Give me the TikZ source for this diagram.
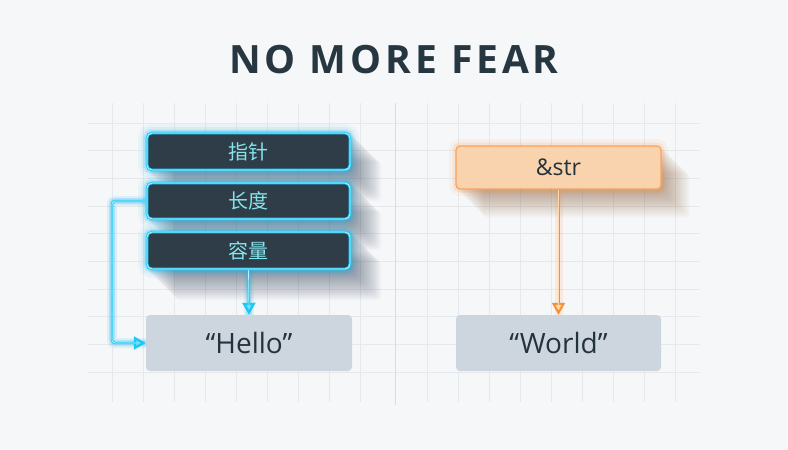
\documentclass[tikz,border=0pt]{standalone}
\usepackage{fontspec}
\setmainfont{Open Sans}
\newfontfamily\titlef[LetterSpace=10]{Open Sans}
\newfontfamily\cjkf{Noto Sans CJK SC}
\usetikzlibrary{arrows.meta}
\definecolor{bgc}{HTML}{F6F7F8}
\definecolor{gridc}{HTML}{E6E9EB}
\definecolor{divc}{HTML}{DADDE0}
\definecolor{darkfill}{HTML}{2E3D47}
\definecolor{cyanb}{HTML}{1EC8F5}
\definecolor{cyanglow}{HTML}{00B0F0}
\definecolor{cyancore}{HTML}{B8F4FF}
\definecolor{cyantext}{HTML}{86E4EC}
\definecolor{strfill}{HTML}{CDD5DE}
\definecolor{strtext}{HTML}{23333D}
\definecolor{orfill}{HTML}{F9D3AD}
\definecolor{orb}{HTML}{F6A35E}
\definecolor{orarrow}{HTML}{F78F35}
\definecolor{orglow}{HTML}{FF8A30}
\definecolor{orcore}{HTML}{FFD8B0}
\definecolor{titlec}{HTML}{263741}
\definecolor{shadc}{HTML}{2A3F55}
\definecolor{shado}{HTML}{8A5A30}
\pgfdeclarelayer{back}
\pgfdeclarelayer{shad}
\pgfsetlayers{back,shad,main}
\tikzset{
  cyanbox/.style={rectangle, rounded corners=5pt, minimum width=203pt, minimum height=37pt,
    fill=darkfill, draw=cyanb, line width=2.6pt, text=cyantext, font=\cjkf\fontsize{20pt}{20pt}\selectfont,
    preaction={draw=cyanglow, line width=18pt, opacity=0.05},
    preaction={draw=cyanglow, line width=12pt, opacity=0.08},
    preaction={draw=cyanglow, line width=7pt, opacity=0.18},
    postaction={draw=cyancore, line width=0.8pt}},
  strbox/.style={rectangle, rounded corners=4pt, minimum width=206pt, minimum height=56pt,
    fill=strfill, text=strtext, font=\fontsize{28pt}{28pt}\selectfont},
  orbox/.style={rectangle, rounded corners=4pt, minimum width=205pt, minimum height=43pt,
    fill=orfill, draw=orb, line width=1.2pt, text=strtext, font=\fontsize{23pt}{23pt}\selectfont,
    preaction={draw=orglow, line width=14pt, opacity=0.06},
    preaction={draw=orglow, line width=7pt, opacity=0.14}},
  cyanarrow/.style={draw=cyanb, line width=2.4pt, rounded corners=3pt,
    -{Triangle[width=13pt,length=12pt,fill=cyancore!60!cyanb]},
    preaction={draw=cyanglow, line width=10pt, opacity=0.10, -{}},
    preaction={draw=cyanglow, line width=6pt, opacity=0.20, -{}},
    postaction={draw=cyancore, line width=0.7pt, -{}, shorten >=10pt}},
  orarrow/.style={draw=orarrow, line width=2pt,
    -{Triangle[width=13pt,length=12pt,fill=orcore]},
    preaction={draw=orglow, line width=8pt, opacity=0.12, -{}},
    postaction={draw=orcore, line width=0.6pt, -{}, shorten >=10pt}},
  gridline/.style={draw=gridc, line width=0.6pt},
  titlestyle/.style={text=titlec, font=\titlef\bfseries\fontsize{39pt}{39pt}\selectfont}
}
\begin{document}
\begin{tikzpicture}[x=1pt,y=-1pt]
\useasboundingbox (0,0) rectangle (788,450);
\begin{pgfonlayer}{back}
\fill[bgc] (0,0) rectangle (788,450);
\foreach \x in {112,143,174,205,236,267,298,329,360} \draw[gridline] (\x,103) -- (\x,402);
\foreach \x in {427,458,489,520,551,582,613,644,675} \draw[gridline] (\x,103) -- (\x,402);
\foreach \y in {123,150.7,178.3,206,233.7,261.3,289,316.7,344.3,372} \draw[gridline] (88,\y) -- (700,\y);
\draw[divc, line width=0.8pt] (395,103) -- (395,405);
\end{pgfonlayer}

\node[titlestyle] (title) at (394,60) {NO MORE FEAR};

\node[cyanbox] (ptr) at (248.5,151.5) {指针};
\node[cyanbox, minimum height=36pt] (len) at (248.5,201) {长度};
\node[cyanbox] (cap) at (248.5,250.5) {容量};
\node[strbox] (hello) at (249,343) {“Hello”};

\node[orbox] (ref) at (558.5,167.5) {\&str};
\node[strbox, minimum width=205pt] (world) at (558.5,343) {“World”};

\begin{pgfonlayer}{shad}
\foreach \i in {1,...,30} {
  \fill[shadc, opacity=0.02, rounded corners=4pt] ([shift={(\i,\i)}]ptr.north west) rectangle ([shift={(\i,\i)}]ptr.south east);
  \fill[shadc, opacity=0.02, rounded corners=4pt] ([shift={(\i,\i)}]len.north west) rectangle ([shift={(\i,\i)}]len.south east);
  \fill[shadc, opacity=0.02, rounded corners=4pt] ([shift={(\i,\i)}]cap.north west) rectangle ([shift={(\i,\i)}]cap.south east);
}
\foreach \i in {1,...,28} {
  \fill[shado, opacity=0.02, rounded corners=4pt] ([shift={(\i,\i)}]ref.north west) rectangle ([shift={(\i,\i)}]ref.south east);
}
\end{pgfonlayer}

\coordinate (c1) at (112,201);
\draw[cyanarrow] (cap.south) -- (hello.north);
\draw[cyanarrow] (len.west) -- (c1) |- (hello.west);
\draw[orarrow] (ref.south) -- (world.north);
\end{tikzpicture}
\end{document}
